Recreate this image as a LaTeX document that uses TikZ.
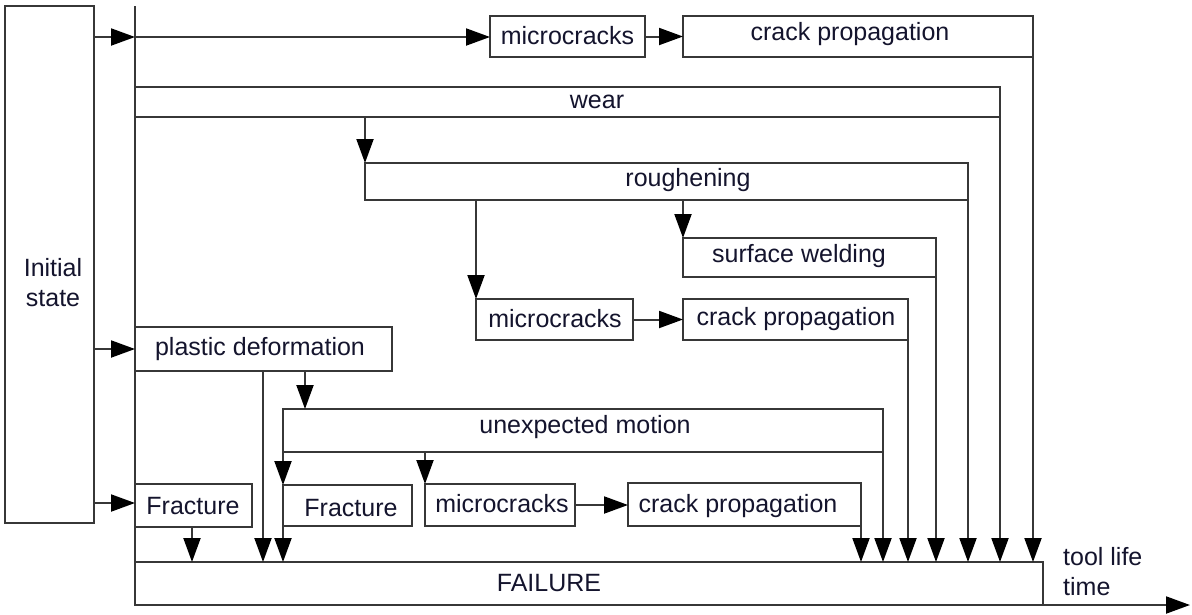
\documentclass[tikz,border=0pt]{standalone}
\usepackage{fontspec}
\setmainfont{Liberation Sans}
\usetikzlibrary{arrows.meta}
\definecolor{ln}{RGB}{55,55,55}
\definecolor{tx}{RGB}{20,20,45}
\tikzset{
  box/.style={draw=ln, line width=2pt, fill=none, inner sep=0pt, outer sep=0pt},
  lbl/.style={inner sep=0pt, text=tx, font=\fontsize{25}{30}\selectfont},
  con/.style={draw=ln, line width=2pt},
  arr/.style={con, -{Triangle[length=24pt,width=17pt,fill=black,color=black]}},
}
\newcommand{\mybox}[5]{% name, x1, y1, x2, y2
  \node[box, anchor=north west, minimum width={#4-#2}, minimum height={#5-#3}] (#1) at (#2,#3) {};
}
\begin{document}
\begin{tikzpicture}[x=1pt,y=-1pt]
\useasboundingbox (0,0) rectangle (1192,614);
\fill[white] (0,0) rectangle (1192,614);
% boxes
\mybox{init}{5}{6}{94}{523}
\mybox{mcA}{490}{16}{645}{57}
\mybox{cpA}{683}{16}{1033}{57}
\mybox{wear}{135}{87}{1000}{117}
\mybox{rough}{365}{163}{968}{200}
\mybox{sw}{683}{238}{936}{277}
\mybox{mcB}{476}{299}{633}{340}
\mybox{cpB}{683}{299}{908}{340}
\mybox{pd}{135}{327}{392}{371}
\mybox{um}{283}{409}{883}{452}
\mybox{frA}{135}{484}{252}{527}
\mybox{frB}{283}{485}{412}{526}
\mybox{mcC}{425}{484}{575}{526}
\mybox{cpC}{628}{483}{861}{526}
\mybox{fail}{135}{562}{1043}{605}
% labels
\node[lbl, align=center] (tinit) at (53,283) {Initial\\state};
\node[lbl] (tmcA) at (567.5,36) {microcracks};
\node[lbl] (tcpA) at (850,34) {crack propagation};
\node[lbl] (twear) at (597,102) {wear};
\node[lbl] (trough) at (688,180) {roughening};
\node[lbl] (tsw) at (799,256) {surface welding};
\node[lbl] (tmcB) at (555,319) {microcracks};
\node[lbl] (tcpB) at (796,319) {crack propagation};
\node[lbl] (tpd) at (260,349) {plastic deformation};
\node[lbl] (tum) at (585,427) {unexpected motion};
\node[lbl] (tfrA) at (193,506) {Fracture};
\node[lbl] (tfrB) at (351,508) {Fracture};
\node[lbl] (tmcC) at (502,504) {microcracks};
\node[lbl] (tcpC) at (738,506) {crack propagation};
\node[lbl] (tfail) at (549,583) {FAILURE};
\node[lbl, anchor=west, align=left] (ttime) at (1063,572) {tool life\\time};
% coordinates
\coordinate (mtop) at (135,6);
\coordinate (axend) at (1190,605);
\coordinate (rowA) at (0,37);
\coordinate (rowB) at (0,349);
\coordinate (rowC) at (0,503);
\coordinate (pdR) at (305,0);
\coordinate (pdL) at (263,0);
\coordinate (frAx) at (192,0);
% main line and time axis
\draw[con] (mtop) -- (fail.south west);
\draw[arr] (fail.south west) -- (axend);
% from initial state
\draw[arr] (init.east |- rowA) -- (mtop |- rowA);
\draw[arr] (init.east |- rowB) -- (mtop |- rowB);
\draw[arr] (init.east |- rowC) -- (mtop |- rowC);
% top row
\draw[arr] (mtop |- rowA) -- (mcA.west |- rowA);
\draw[arr] (mcA.east) -- (cpA.west);
\draw[arr] (cpA.south east) -- (cpA.south east |- fail.north);
% wear
\draw[arr] (wear.south east) -- (wear.south east |- fail.north);
\draw[arr] (wear.south -| rough.north west) -- (rough.north west);
% roughening
\draw[arr] (rough.south east) -- (rough.south east |- fail.north);
\draw[arr] (rough.south -| mcB.north west) -- (mcB.north west);
\draw[arr] (rough.south -| sw.north west) -- (sw.north west);
\draw[arr] (sw.south east) -- (sw.south east |- fail.north);
\draw[arr] (mcB.east) -- (cpB.west);
\draw[arr] (cpB.south east) -- (cpB.south east |- fail.north);
% plastic deformation
\draw[arr] (pd.south -| pdL) -- (fail.north -| pdL);
\draw[arr] (pd.south -| pdR) -- (um.north -| pdR);
% unexpected motion
\draw[arr] (um.south east) -- (um.south east |- fail.north);
\draw[arr] (um.south west) -- (frB.north west);
\draw[arr] (frB.south west) -- (frB.south west |- fail.north);
\draw[arr] (um.south -| mcC.north west) -- (mcC.north west);
\draw[arr] (mcC.east) -- (cpC.west |- mcC.east);
\draw[arr] (cpC.south east) -- (cpC.south east |- fail.north);
% fracture
\draw[arr] (frA.south -| frAx) -- (fail.north -| frAx);
\end{tikzpicture}
\end{document}
